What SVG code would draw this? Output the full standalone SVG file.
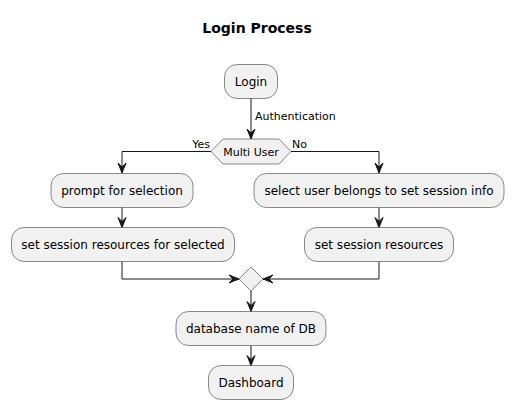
<svg xmlns="http://www.w3.org/2000/svg" width="514" height="409" viewBox="0 0 514 409">
<defs>
<style>
.n{fill:#F1F1F1;stroke:#181818;stroke-width:0.5}
.t{font-family:"DejaVu Sans",sans-serif;font-size:12px;fill:#000;text-anchor:middle}
.l{font-family:"DejaVu Sans",sans-serif;font-size:11px;fill:#000}
.e{fill:none;stroke:#181818;stroke-width:1}
.h{fill:#181818;stroke:#181818;stroke-width:1}
</style>
</defs>
<rect width="514" height="409" fill="#FFFFFF"/>
<text x="257" y="33" style="font-family:'DejaVu Sans',sans-serif;font-size:14px;font-weight:bold;text-anchor:middle">Login Process</text>
<g id="connectors">
<line class="e" x1="251" y1="98" x2="251" y2="139"/>
<polygon class="h" points="247,129 251,139 255,129 251,133"/>
<text class="l" x="255" y="120">Authentication</text>
<polyline class="e" points="211,151.5 122,151.5 122,173"/>
<polygon class="h" points="118,163 122,173 126,163 122,167"/>
<text class="l" x="210" y="148" text-anchor="end">Yes</text>
<polyline class="e" points="291,151.5 379,151.5 379,173"/>
<polygon class="h" points="375,163 379,173 383,163 379,167"/>
<text class="l" x="292" y="148">No</text>
<line class="e" x1="122" y1="207" x2="122" y2="227.5"/>
<polygon class="h" points="118,217.5 122,227.5 126,217.5 122,221.5"/>
<line class="e" x1="379" y1="207" x2="379" y2="227.5"/>
<polygon class="h" points="375,217.5 379,227.5 383,217.5 379,221.5"/>
<polyline class="e" points="122,261.5 122,279 239,279"/>
<polygon class="h" points="229,275 239,279 229,283 233,279"/>
<polyline class="e" points="379,261.5 379,279 263,279"/>
<polygon class="h" points="273,275 263,279 273,283 269,279"/>
<line class="e" x1="251" y1="291" x2="251" y2="311.5"/>
<polygon class="h" points="247,301.5 251,311.5 255,301.5 251,305.5"/>
<line class="e" x1="251" y1="345.5" x2="251" y2="365.5"/>
<polygon class="h" points="247,355.5 251,365.5 255,355.5 251,359.5"/>
</g>
<g id="login"><rect class="n" x="224.5" y="64.5" width="53" height="34" rx="12.5"/><text class="t" x="251" y="86">Login</text></g>
<g id="multiuser"><polygon class="n" points="211,151.5 223,139 279,139 291,151.5 279,164 223,164"/><text class="l" x="251" y="155.5" text-anchor="middle">Multi User</text></g>
<g id="prompt"><rect class="n" x="51" y="173.5" width="142" height="34" rx="12.5"/><text class="t" x="122" y="195">prompt for selection</text></g>
<g id="setselected"><rect class="n" x="11.5" y="227.5" width="223" height="34" rx="12.5"/><text class="t" x="123" y="249">set session resources for selected</text></g>
<g id="selectuser"><rect class="n" x="254" y="173.5" width="250" height="34" rx="12.5"/><text class="t" x="379" y="195">select user belongs to set session info</text></g>
<g id="setres"><rect class="n" x="304.5" y="227.5" width="149" height="34" rx="12.5"/><text class="t" x="379" y="249">set session resources</text></g>
<g id="merge"><polygon class="n" points="251,267 263,279 251,291 239,279"/></g>
<g id="database"><rect class="n" x="176" y="311.5" width="150" height="34" rx="12.5"/><text class="t" x="251" y="333">database name of DB</text></g>
<g id="dashboard"><rect class="n" x="208.5" y="365.5" width="85" height="34" rx="12.5"/><text class="t" x="251" y="387">Dashboard</text></g>
</svg>
